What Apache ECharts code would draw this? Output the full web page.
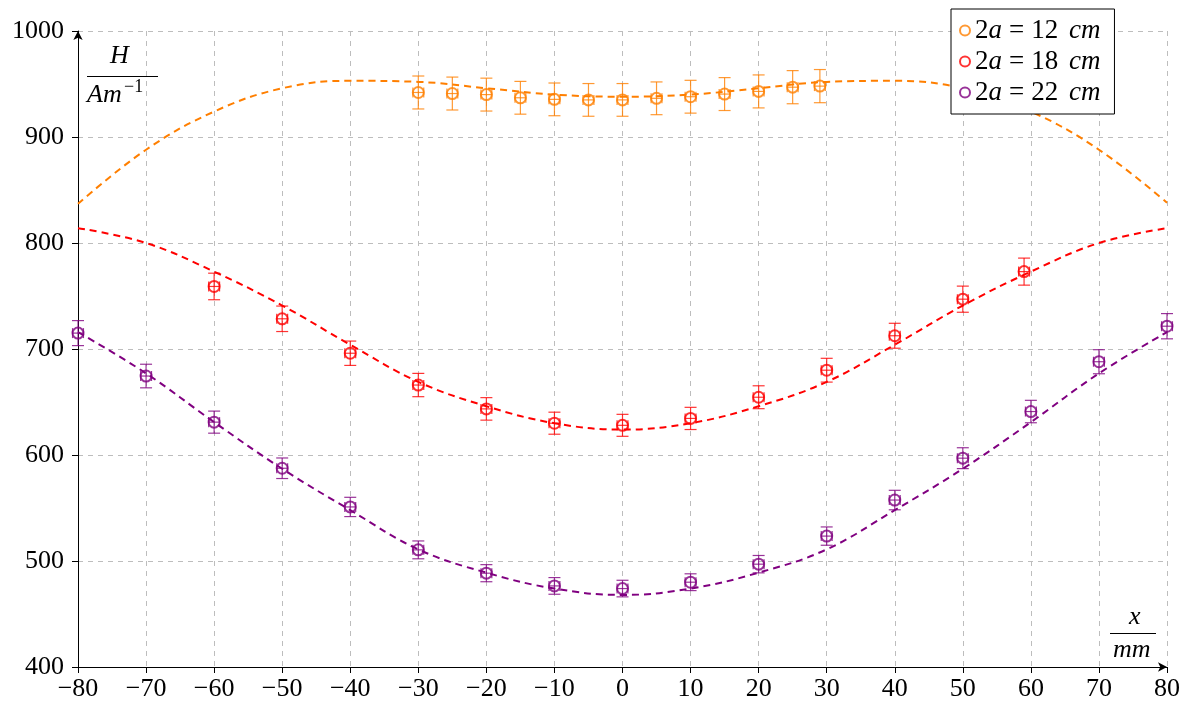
<!DOCTYPE html>
<html lang="en" style="height: 100%">
<head>
    <meta charset="utf-8">
    <script src="https://cdn.jsdelivr.net/npm/echarts@6/dist/echarts.min.js"></script>
</head>
<body style="height: 100%; margin: 0">
    <div id="container" style="width: 1184px; height: 704px"></div>

    <script type="text/javascript">
        // measured points (x in mm, H in A/m)
        const xOrange = [-30, -25, -20, -15, -10, -5, 0, 5, 10, 15, 20, 25, 29];
        const hOrange = [942, 941, 940, 937, 935.5, 935, 935, 936.5, 938, 940.5, 943, 947, 948];

        const xRed = [-60, -50, -40, -30, -20, -10, 0, 10, 20, 30, 40, 50, 59];
        const hRed = [759, 728.5, 696, 666, 643.5, 630, 628, 634.5, 654.5, 680, 712.5, 747, 773];

        const xPurple = [-80, -70, -60, -50, -40, -30, -20, -10, 0, 10, 20, 30, 40, 50, 60, 70, 80];
        const hPurple = [715, 674.5, 631, 587.5, 551, 510.5, 488.5, 476.5, 474, 480, 497, 523.5, 557.5, 597, 641, 688, 721.5];

        // theoretical curves, read every 10 mm
        const xCurve = [-80, -70, -60, -50, -40, -30, -20, -10, 0, 10, 20, 30, 40, 50, 60, 70, 80];
        const fitOrange = [837, 888, 924, 946, 953, 952, 946, 940, 938, 940, 946, 952, 953, 946, 924, 888, 838];
        const fitRed = [814, 800, 773, 741, 704, 669, 646, 630, 624, 630, 646, 669, 704, 741, 773, 800, 814];
        const fitPurple = [716, 677, 631, 587, 548, 511, 489, 474, 468, 474, 489, 511, 548, 587, 631, 677, 716];

        const seriesNames = ['2a = 12 cm', '2a = 18 cm', '2a = 22 cm'];
        const yTicks = [400, 500, 600, 700, 800, 900, 1000];

        const REL_ERR = 0.0165;   // relative error on H
        const X_ERR = 0.8;        // error on x, mm

        const colors = ['#ff7f00', '#ff0000', '#800080'];
        const FONT = "'Liberation Serif', 'DejaVu Serif', serif";

        const dom = document.getElementById('container');
        const myChart = echarts.init(dom, null, { renderer: 'canvas' });

        const zip = (xs, ys) => xs.map((x, i) => [x, ys[i]]);

        const errRenderer = function (color) {
            return function (params, api) {
                const x = api.value(0), y = api.value(1);
                const e = y * REL_ERR;
                const top = api.coord([x, y + e]);
                const bot = api.coord([x, y - e]);
                const left = api.coord([x - X_ERR, y]);
                const right = api.coord([x + X_ERR, y]);
                const cw = 6, ch = 5;
                const style = { stroke: color, lineWidth: 1.2, opacity: 0.8 };
                const seg = (x1, y1, x2, y2) => ({ type: 'line', shape: { x1, y1, x2, y2 }, style });
                return {
                    type: 'group',
                    children: [
                        seg(top[0], top[1], bot[0], bot[1]),
                        seg(top[0] - cw, top[1], top[0] + cw, top[1]),
                        seg(bot[0] - cw, bot[1], bot[0] + cw, bot[1]),
                        seg(left[0], left[1], right[0], right[1]),
                        seg(left[0], left[1] - ch, left[0], left[1] + ch),
                        seg(right[0], right[1] - ch, right[0], right[1] + ch)
                    ]
                };
            };
        };

        const pointSets = [zip(xOrange, hOrange), zip(xRed, hRed), zip(xPurple, hPurple)];
        const fitSets = [zip(xCurve, fitOrange), zip(xCurve, fitRed), zip(xCurve, fitPurple)];

        let series = [];
        seriesNames.forEach((name, i) => {
            series.push({
                name: name,
                type: 'scatter',
                symbol: 'circle',
                symbolSize: 11,
                itemStyle: { color: 'rgba(0,0,0,0)', borderColor: colors[i], borderWidth: 2 },
                z: 4,
                data: pointSets[i]
            });
        });
        seriesNames.forEach((name, i) => {
            series.push({
                name: name,
                type: 'custom',
                renderItem: errRenderer(colors[i]),
                clip: false,
                z: 3,
                data: pointSets[i]
            });
            series.push({
                name: name,
                type: 'line',
                smooth: 0.4,
                showSymbol: false,
                lineStyle: { color: colors[i], width: 2, type: [7, 5] },
                z: 2,
                data: fitSets[i]
            });
        });

        const minus = v => String(v).replace('-', '\u2212');

        let option = {
            animation: false,
            backgroundColor: '#ffffff',
            textStyle: { fontFamily: FONT },
            grid: { left: 78, right: 17, top: 31, bottom: 37 },
            xAxis: {
                type: 'value',
                min: -80,
                max: 80,
                interval: 10,
                axisLine: {
                    onZero: false,
                    symbol: ['none', 'arrow'],
                    symbolSize: [7, 9],
                    lineStyle: { color: '#000', width: 1 }
                },
                axisTick: { show: true, length: 6, lineStyle: { color: '#000' } },
                axisLabel: {
                    margin: 9,
                    color: '#000',
                    fontFamily: FONT,
                    fontSize: 26,
                    formatter: minus,
                    showMinLabel: true,
                    showMaxLabel: true
                },
                splitLine: { show: true, lineStyle: { color: '#bdbdbd', width: 1, type: [5, 5] } }
            },
            yAxis: {
                type: 'value',
                min: yTicks[0],
                max: yTicks[yTicks.length - 1],
                interval: 100,
                axisLine: {
                    show: true,
                    onZero: false,
                    symbol: ['none', 'arrow'],
                    symbolSize: [7, 9],
                    lineStyle: { color: '#000', width: 1 }
                },
                axisTick: { show: true, length: 6, lineStyle: { color: '#000' } },
                axisLabel: {
                    margin: 14,
                    color: '#000',
                    fontFamily: FONT,
                    fontSize: 26,
                    formatter: v => String(v)
                },
                splitLine: { show: true, lineStyle: { color: '#bdbdbd', width: 1, type: [5, 5] } }
            },
            legend: {
                orient: 'vertical',
                left: 951,
                top: 9,
                padding: [6, 14, 6, 8],
                itemGap: 0,
                itemWidth: 10,
                itemHeight: 10,
                backgroundColor: '#ffffff',
                borderColor: '#000',
                borderWidth: 1,
                borderRadius: 0,
                data: seriesNames.map((n, i) => ({
                    name: n,
                    icon: 'circle',
                    itemStyle: { color: 'rgba(0,0,0,0)', borderColor: colors[i], borderWidth: 2 }
                })),
                formatter: name => name.replace(/^2a = (\d+) cm$/, '{n|2}{i|a}{e|=}{n|$1}{s| }{i|cm}'),
                textStyle: {
                    color: '#000',
                    fontFamily: FONT,
                    fontSize: 27,
                    lineHeight: 31,
                    rich: {
                        n: { fontFamily: FONT, fontSize: 27, color: '#000', lineHeight: 31 },
                        e: { fontFamily: FONT, fontSize: 27, color: '#000', lineHeight: 31, padding: [0, 7] },
                        s: { fontFamily: FONT, fontSize: 27, color: '#000', lineHeight: 31, padding: [0, 2] },
                        i: { fontFamily: FONT, fontSize: 27, fontStyle: 'italic', color: '#000', lineHeight: 31 }
                    }
                }
            },
            graphic: [
                { type: 'text', left: 110, top: 43, style: { text: 'H', fontFamily: FONT, fontStyle: 'italic', fontSize: 26, fill: '#000' } },
                { type: 'line', shape: { x1: 87, y1: 76.5, x2: 158, y2: 76.5 }, style: { stroke: '#000', lineWidth: 1 } },
                { type: 'text', left: 87, top: 82, style: { text: 'Am', fontFamily: FONT, fontStyle: 'italic', fontSize: 26, fill: '#000' } },
                { type: 'text', left: 124, top: 78, style: { text: '\u22121', fontFamily: FONT, fontSize: 18, fill: '#000' } },
                { type: 'text', left: 1129, top: 604, style: { text: 'x', fontFamily: FONT, fontStyle: 'italic', fontSize: 26, fill: '#000' } },
                { type: 'line', shape: { x1: 1110, y1: 633.5, x2: 1156, y2: 633.5 }, style: { stroke: '#000', lineWidth: 1 } },
                { type: 'text', left: 1113, top: 637, style: { text: 'mm', fontFamily: FONT, fontStyle: 'italic', fontSize: 26, fill: '#000' } }
            ],
            series: series
        };

        myChart.setOption(option);
    </script>
</body>
</html>
